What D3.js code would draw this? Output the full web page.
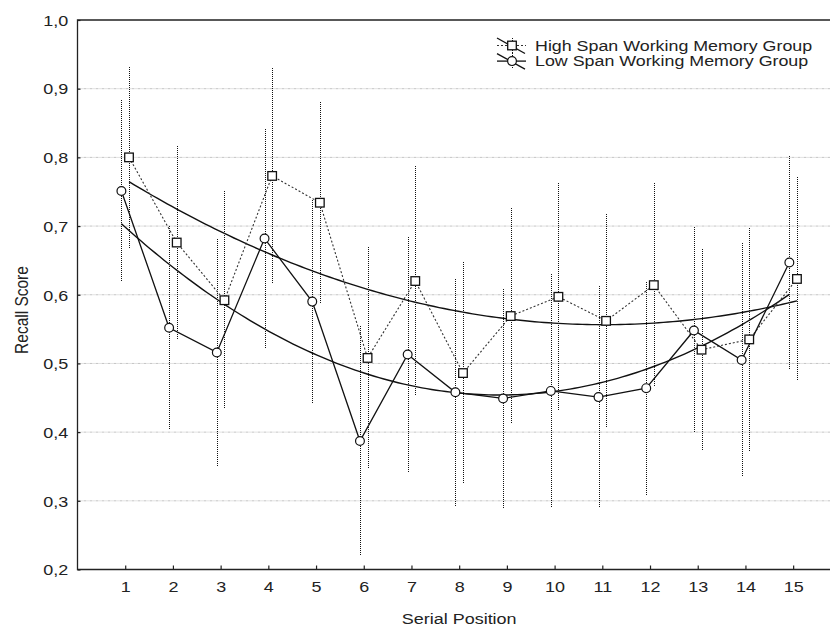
<!DOCTYPE html>
<html>
<head>
<meta charset="utf-8">
<script src="https://cdn.jsdelivr.net/npm/d3@7"></script>
<style>
  body { margin: 0; background: #fff; }
  text { font-family: "Liberation Sans", Arial, sans-serif; fill: #222; }
</style>
</head>
<body>
<div id="chartArea"></div>
<script>
// data
const positions = [1, 2, 3, 4, 5, 6, 7, 8, 9, 10, 11, 12, 13, 14, 15];
const highMean = [0.800, 0.676, 0.592, 0.773, 0.734, 0.508, 0.620, 0.486, 0.569, 0.597, 0.562, 0.614, 0.520, 0.535, 0.623];
const highErr  = [0.132, 0.140, 0.159, 0.157, 0.147, 0.162, 0.167, 0.161, 0.157, 0.166, 0.156, 0.149, 0.147, 0.162, 0.149];
const lowMean  = [0.751, 0.552, 0.516, 0.682, 0.590, 0.387, 0.513, 0.458, 0.449, 0.460, 0.451, 0.464, 0.548, 0.505, 0.647];
const lowErr   = [0.133, 0.148, 0.165, 0.160, 0.148, 0.167, 0.171, 0.165, 0.160, 0.170, 0.162, 0.155, 0.150, 0.170, 0.155];
const yTicks = [0.2, 0.3, 0.4, 0.5, 0.6, 0.7, 0.8, 0.9, 1.0];
const seriesNames = ["High Span Working Memory Group", "Low Span Working Memory Group"];

// constants
const width = 830, height = 628;
const stretch = 1.16;        // text in the figure is a bit wider than tall
const fontSize = 15.5;
const offset = 3.8;          // px shift of the two groups around each tick

var xScale = d3.scaleLinear().domain([0, 16]).range([77.5, 77.5 + 16 * 47.71]);
var yScale = d3.scaleLinear().domain([0.2, 1.0]).range([569.5, 20]);

var svg = d3.select("#chartArea").append("svg")
    .attr("width", width)
    .attr("height", height)
    .style("font-size", fontSize + "px");

// quadratic least squares fit, returns function of x
function quadFit(xs, ys) {
    var s = [0, 0, 0, 0, 0], t = [0, 0, 0];
    xs.forEach(function (x, i) {
        for (var k = 0; k < 5; k++) s[k] += Math.pow(x, k);
        for (var k = 0; k < 3; k++) t[k] += Math.pow(x, k) * ys[i];
    });
    // solve 3x3 normal equations (Cramer)
    var A = [[s[0], s[1], s[2]], [s[1], s[2], s[3]], [s[2], s[3], s[4]]];
    function det(m) {
        return m[0][0] * (m[1][1] * m[2][2] - m[1][2] * m[2][1])
             - m[0][1] * (m[1][0] * m[2][2] - m[1][2] * m[2][0])
             + m[0][2] * (m[1][0] * m[2][1] - m[1][1] * m[2][0]);
    }
    var D = det(A), c = [];
    for (var j = 0; j < 3; j++) {
        var M = A.map(function (row, r) { return row.map(function (v, cc) { return cc == j ? t[r] : v; }); });
        c.push(det(M) / D);
    }
    return function (x) { return c[0] + c[1] * x + c[2] * x * x; };
}

// grid lines
svg.append("g").selectAll("line")
    .data(yTicks.filter(function (d) { return d > 0.2 && d < 1.0; }))
    .enter().append("line")
    .attr("x1", xScale(0)).attr("x2", width)
    .attr("y1", function (d) { return yScale(d); })
    .attr("y2", function (d) { return yScale(d); })
    .style("stroke", "#c4c4c4").style("stroke-width", 1)
    .style("stroke-dasharray", "3,1,1,1");

// axes
var fmt = function (d) { return d3.format(".1f")(d).replace(".", ","); };
var yAxis = d3.axisLeft(yScale).tickValues(yTicks).tickFormat(fmt)
    .tickSizeInner(-3).tickSizeOuter(0).tickPadding(8);
var xAxis = d3.axisBottom(xScale).tickValues(positions).tickFormat(d3.format("d"))
    .tickSizeInner(-4).tickSizeOuter(0).tickPadding(12);

var gy = svg.append("g").attr("transform", "translate(" + xScale(0) + ",0)").call(yAxis);
var gx = svg.append("g").attr("transform", "translate(0," + yScale(0.2) + ")").call(xAxis);
[gx, gy].forEach(function (g) {
    g.select(".domain").remove();
    g.selectAll("line").style("stroke", "#222").style("stroke-width", 1.2);
    g.selectAll("text").style("font-size", fontSize + "px").style("font-family", null)
        .attr("transform", "scale(" + stretch + ",1)");
});
gy.selectAll("text").attr("dy", "0.34em");

// frame: left, bottom, top
svg.append("path")
    .attr("d", "M" + width + "," + yScale(1.0) + "H" + xScale(0) + "V" + yScale(0.2) + "H" + width)
    .style("fill", "none").style("stroke", "#222").style("stroke-width", 1.3);

// axis titles
svg.append("text")
    .attr("transform", "translate(" + xScale(8) + ",619) scale(" + stretch + ",1)")
    .attr("text-anchor", "middle")
    .attr("dy", "0.35em")
    .text("Serial Position");
svg.append("text")
    .attr("transform", "translate(22," + 310 + ") scale(" + stretch + ",1) rotate(-90)")
    .attr("text-anchor", "middle")
    .attr("dy", "0.35em")
    .text("Recall Score");

var series = [
    { mean: highMean, err: highErr, shift: offset, dash: "2,2", marker: "square" },
    { mean: lowMean, err: lowErr, shift: -offset, dash: null, marker: "circle" }
];

function px(d, s) { return xScale(d) + s.shift; }

// error bars (snapped to pixels so the dots stay crisp)
series.forEach(function (s) {
    svg.append("g").selectAll("line")
        .data(positions)
        .enter().append("line")
        .attr("x1", function (d) { return Math.round(px(d, s)) + 0.5; })
        .attr("x2", function (d) { return Math.round(px(d, s)) + 0.5; })
        .attr("y1", function (d, i) { return Math.round(yScale(s.mean[i] + s.err[i])); })
        .attr("y2", function (d, i) { return Math.round(yScale(s.mean[i] - s.err[i])); })
        .style("stroke", "#111").style("stroke-width", 1)
        .style("stroke-dasharray", "1,1");
});

// quadratic trend curves
series.forEach(function (s) {
    var f = quadFit(positions, s.mean);
    var pts = d3.range(1, 15.001, 0.1);
    svg.append("path")
        .datum(pts)
        .attr("d", d3.line()
            .x(function (d) { return px(d, s); })
            .y(function (d) { return yScale(f(d)); }))
        .style("fill", "none").style("stroke", "#111").style("stroke-width", 1.4);
});

// mean lines
series.forEach(function (s) {
    svg.append("path")
        .datum(positions)
        .attr("d", d3.line()
            .x(function (d) { return px(d, s); })
            .y(function (d, i) { return yScale(s.mean[i]); }))
        .style("fill", "none").style("stroke", s.dash ? "#333" : "#111")
        .style("stroke-width", s.dash ? 1.1 : 1.3)
        .style("stroke-dasharray", s.dash);
});

// markers
function drawMarker(g, type, x, y) {
    if (type == "square") {
        g.append("rect").attr("x", x - 4.3).attr("y", y - 4.3)
            .attr("width", 8.6).attr("height", 8.6)
            .style("fill", "#fff").style("stroke", "#111").style("stroke-width", 1.3);
    } else {
        g.append("circle").attr("cx", x).attr("cy", y).attr("r", 4.4)
            .style("fill", "#fff").style("stroke", "#111").style("stroke-width", 1.2);
    }
}
series.forEach(function (s) {
    var g = svg.append("g");
    positions.forEach(function (d, i) { drawMarker(g, s.marker, px(d, s), yScale(s.mean[i])); });
});

// legend
var legend = svg.append("g").attr("transform", "translate(512,0)");
series.forEach(function (s, i) {
    var cy = 45.5 + i * 15.6;
    legend.append("line").attr("x1", 0.5).attr("x2", 0.5)
        .attr("y1", Math.round(cy - 8)).attr("y2", Math.round(cy + 8))
        .style("stroke", "#111").style("stroke-width", 1).style("stroke-dasharray", "1,1");
    legend.append("line").attr("x1", -15).attr("x2", 14).attr("y1", cy).attr("y2", cy)
        .style("stroke", s.dash ? "#333" : "#111").style("stroke-width", s.dash ? 1.1 : 1.3)
        .style("stroke-dasharray", s.dash);
    legend.append("line").attr("x1", -15).attr("x2", 13).attr("y1", cy - 7.5).attr("y2", cy + 8)
        .style("stroke", "#111").style("stroke-width", 1.3);
    drawMarker(legend, s.marker, 0, cy);
    legend.append("text")
        .attr("transform", "translate(23," + cy + ") scale(" + (stretch + 0.03) + ",1)")
        .attr("dy", "0.35em")
        .style("font-size", "15px")
        .text(seriesNames[i]);
});
</script>
</body>
</html>
